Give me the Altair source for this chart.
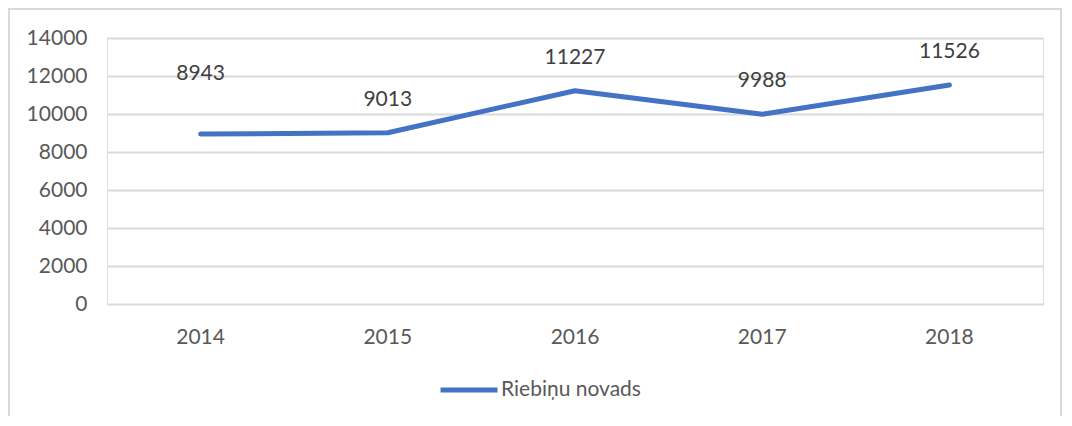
import altair as alt
import pandas as pd

years = ["2014", "2015", "2016", "2017", "2018"]
values = [8943, 9013, 11227, 9988, 11526]
series = "Riebiņu novads"
y_ticks = [0, 2000, 4000, 6000, 8000, 10000, 12000, 14000]

df = pd.DataFrame({"year": years, "value": values, "series": [series] * len(years)})

FONT = "Lato"
TXT = "#595959"
FS = 21

x = alt.X("year:N", sort=years, title=None,
          scale=alt.Scale(type="band", paddingInner=0, paddingOuter=0),
          axis=alt.Axis(labelAngle=0, ticks=False, domain=False, grid=False,
                        labelPadding=22, labelFontSize=FS, labelColor=TXT, labelFont=FONT))
y = alt.Y("value:Q", title=None,
          scale=alt.Scale(domain=[0, 14000], nice=False),
          axis=alt.Axis(values=y_ticks, format="d", labelOverlap=False,
                        ticks=False, domain=False,
                        gridColor="#d9d9d9", gridWidth=2, labelPadding=20,
                        labelFontSize=FS, labelColor=TXT, labelFont=FONT))

base = alt.Chart(df)

line = base.mark_line(strokeWidth=5, strokeCap="round", strokeJoin="round").encode(
    x=x, y=y,
    color=alt.Color("series:N", scale=alt.Scale(range=["#4472C4"]),
                    legend=alt.Legend(title=None, orient="none", legendX=331, legendY=321,
                                      symbolType="stroke", symbolSize=3249,
                                      symbolStrokeWidth=5, labelFontSize=FS,
                                      labelColor=TXT, labelFont=FONT, labelOffset=1)),
)

labels_main = base.transform_filter(alt.datum.year != "2014").mark_text(
    dy=-33, fontSize=FS, color="#404040", font=FONT
).encode(x=x, y=y, text="value:Q")

labels_first = base.transform_filter(alt.datum.year == "2014").mark_text(
    dy=-60, fontSize=FS, color="#404040", font=FONT
).encode(x=x, y=y, text="value:Q")

frame = alt.Chart(pd.DataFrame({"a": [0]})).mark_rect(
    fill="transparent", stroke="#d9d9d9", strokeWidth=2
).encode(x=alt.value(-98), x2=alt.value(954), y=alt.value(-29), y2=alt.value(440))

chart = alt.layer(frame, line, labels_main, labels_first).properties(
    width=936, height=266,
    padding={"left": 99, "top": 30, "right": 20, "bottom": 112},
    autosize=alt.AutoSizeParams(type="none"),
).configure_view(stroke=None).configure(background="white")

chart.save("out.html", embed_options={"renderer": "svg", "actions": False})
